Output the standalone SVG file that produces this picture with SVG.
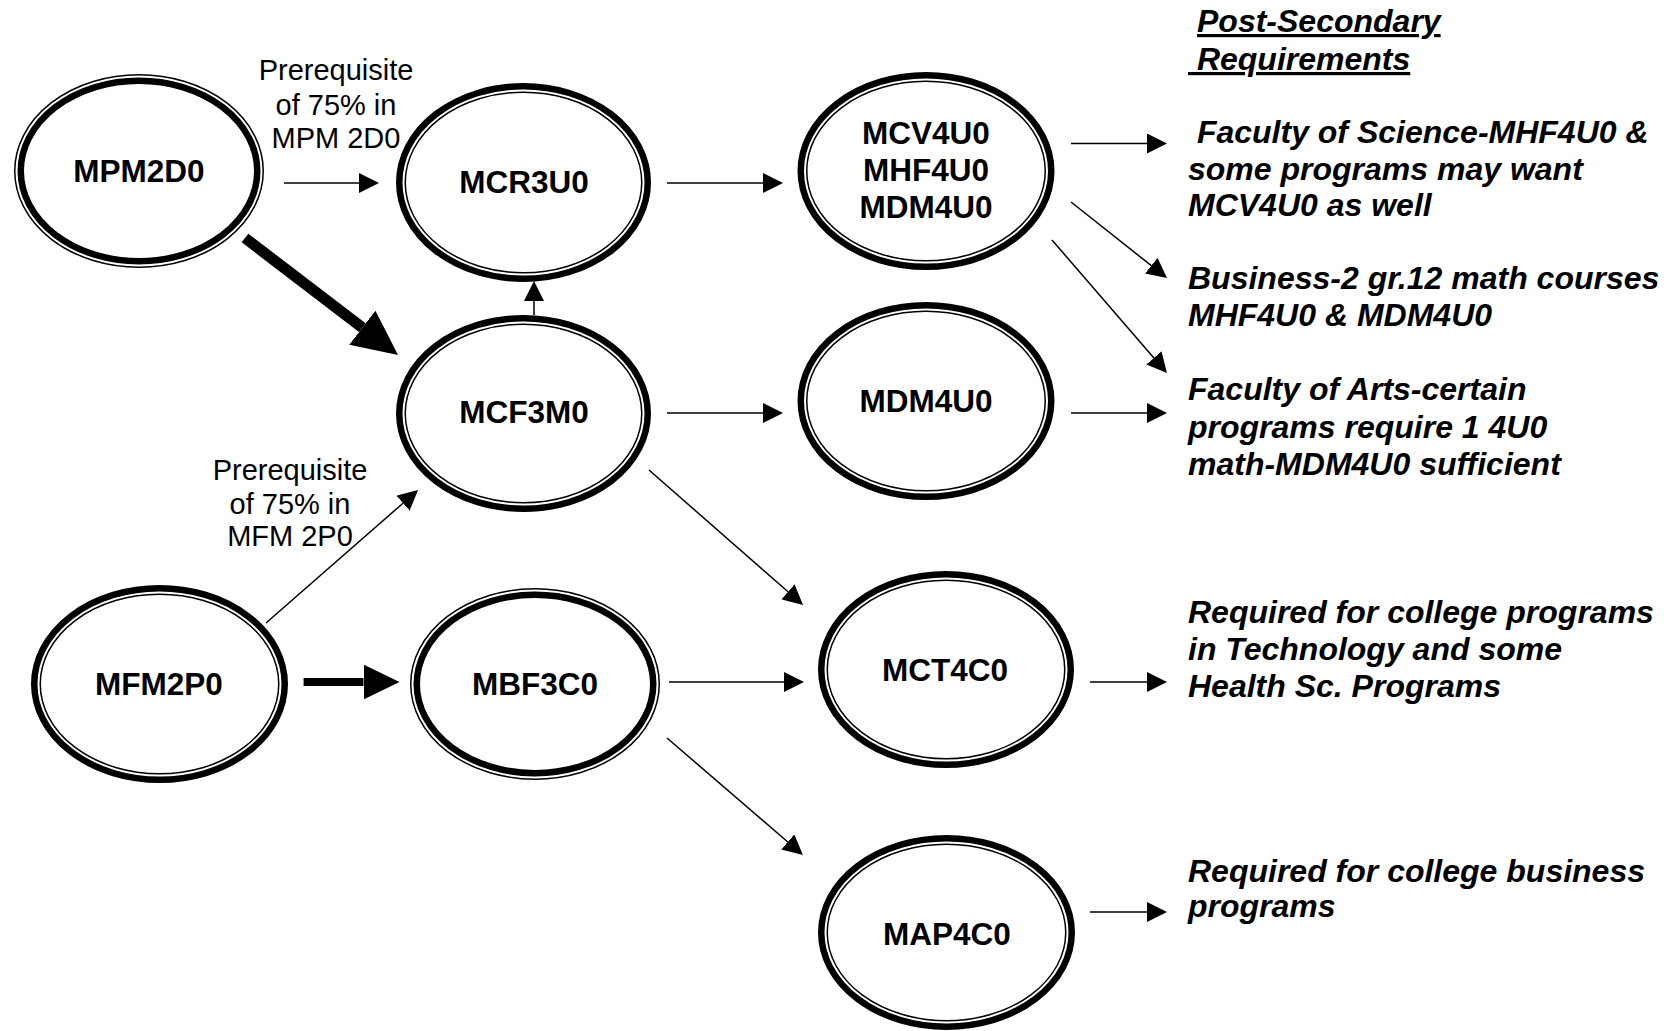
<svg xmlns="http://www.w3.org/2000/svg" width="1670" height="1031" viewBox="0 0 1670 1031">
<style>
.bg{fill:#fff}
.tk{fill:none;stroke:#000;stroke-width:6.5}
.tn{fill:none;stroke:#000;stroke-width:1.5}
.nt{font-family:"Liberation Sans",Arial,sans-serif;font-weight:bold;font-size:31.5px;text-anchor:middle;fill:#000}
.lb{font-family:"Liberation Sans",Arial,sans-serif;font-size:29px;text-anchor:middle;fill:#000}
.rt{font-family:"Liberation Sans",Arial,sans-serif;font-weight:bold;font-style:italic;font-size:32px;fill:#000;white-space:pre}
.ul{text-decoration:underline}
.c{fill:none;stroke:#000;stroke-width:1.5}
</style>
<defs>
<marker id="ah" markerUnits="userSpaceOnUse" viewBox="0 0 20 20" markerWidth="20" markerHeight="20" refX="0" refY="10" orient="auto"><path d="M0,0 L20,10 L0,20 z" fill="#000"/></marker>
<marker id="ahBig" markerUnits="userSpaceOnUse" viewBox="0 0 45 43" markerWidth="45" markerHeight="43" refX="0" refY="21.5" orient="auto"><path d="M0,0 L45,21.5 L0,43 z" fill="#000"/></marker>
<marker id="ahMed" markerUnits="userSpaceOnUse" viewBox="0 0 36 35" markerWidth="36" markerHeight="35" refX="0" refY="17.5" orient="auto"><path d="M0,0 L36,17.5 L0,35 z" fill="#000"/></marker>
<clipPath id="clip1"><rect x="200" y="40" width="280" height="109"/></clipPath>
<clipPath id="clip2"><rect x="150" y="440" width="280" height="107"/></clipPath>
</defs>
<rect width="1670" height="1031" fill="#fff"/>

<g id="connectors">
<line class="c" x1="284" y1="183" x2="359" y2="183" marker-end="url(#ah)"/>
<line x1="245" y1="238" x2="362.3" y2="327.7" stroke="#000" stroke-width="11" marker-end="url(#ahBig)"/>
<line class="c" x1="534" y1="315" x2="534" y2="301" marker-end="url(#ah)"/>
<line class="c" x1="667" y1="183" x2="763" y2="183" marker-end="url(#ah)"/>
<line class="c" x1="1071" y1="143.5" x2="1147" y2="143.5" marker-end="url(#ah)"/>
<line class="c" x1="1071" y1="202" x2="1151.3" y2="265.6" marker-end="url(#ah)"/>
<line class="c" x1="1052" y1="240" x2="1153.9" y2="357.9" marker-end="url(#ah)"/>
<line class="c" x1="667" y1="413" x2="763" y2="413" marker-end="url(#ah)"/>
<line class="c" x1="1071" y1="413" x2="1147" y2="413" marker-end="url(#ah)"/>
<line class="c" x1="649" y1="470" x2="788" y2="591.8" marker-end="url(#ah)"/>
<line class="c" x1="266" y1="623" x2="403" y2="503.2" marker-end="url(#ah)"/>
<line x1="303.6" y1="682" x2="363.5" y2="682" stroke="#000" stroke-width="8" marker-end="url(#ahMed)"/>
<line class="c" x1="669" y1="682" x2="784" y2="682" marker-end="url(#ah)"/>
<line class="c" x1="1090" y1="682" x2="1147" y2="682" marker-end="url(#ah)"/>
<line class="c" x1="667" y1="738" x2="787.8" y2="842" marker-end="url(#ah)"/>
<line class="c" x1="1090" y1="912" x2="1147" y2="912" marker-end="url(#ah)"/>
</g>

<g id="label-mpm" clip-path="url(#clip1)">
<text class="lb" x="336" y="80">Prerequisite</text>
<text class="lb" x="336" y="114.5">of 75% in</text>
<text class="lb" x="336" y="148">MPM 2D0</text>
</g>
<g id="label-mfm" clip-path="url(#clip2)">
<text class="lb" x="290" y="480">Prerequisite</text>
<text class="lb" x="290" y="513.5">of 75% in</text>
<text class="lb" x="290" y="546">MFM 2P0</text>
</g>

<g id="MPM2D0">
<ellipse class="tn" cx="139" cy="171" rx="124.25" ry="96.25" style="fill:#fff"/>
<ellipse class="tk" cx="139" cy="171" rx="118.25" ry="90.25"/>
<text class="nt" x="139" y="182">MPM2D0</text>
</g>
<g id="MCR3U0">
<ellipse class="tk" cx="523.5" cy="182.5" rx="124.25" ry="96.25" style="fill:#fff"/>
<ellipse class="tn" cx="523.5" cy="182.5" rx="118.25" ry="90.25"/>
<text class="nt" x="524" y="193">MCR3U0</text>
</g>
<g id="MCV4U0">
<ellipse class="tk" cx="926" cy="171" rx="125.25" ry="95.75" style="fill:#fff"/>
<ellipse class="tn" cx="926" cy="171" rx="119.25" ry="89.75"/>
<text class="nt" x="926" y="144">MCV4U0</text>
<text class="nt" x="926" y="181">MHF4U0</text>
<text class="nt" x="926" y="218">MDM4U0</text>
</g>
<g id="MCF3M0">
<ellipse class="tk" cx="523.5" cy="413.5" rx="124.25" ry="95.25" style="fill:#fff"/>
<ellipse class="tn" cx="523.5" cy="413.5" rx="118.25" ry="89.25"/>
<text class="nt" x="524" y="423">MCF3M0</text>
</g>
<g id="MDM4U0">
<ellipse class="tk" cx="926" cy="401" rx="125.25" ry="95.75" style="fill:#fff"/>
<ellipse class="tn" cx="926" cy="401" rx="119.25" ry="89.75"/>
<text class="nt" x="926" y="412">MDM4U0</text>
</g>
<g id="MFM2P0">
<ellipse class="tk" cx="159.5" cy="684" rx="125.25" ry="95.75" style="fill:#fff"/>
<ellipse class="tn" cx="159.5" cy="684" rx="119.25" ry="89.75"/>
<text class="nt" x="159" y="695">MFM2P0</text>
</g>
<g id="MBF3C0">
<ellipse class="tn" cx="535" cy="684" rx="124.25" ry="95.25" style="fill:#fff"/>
<ellipse class="tk" cx="535" cy="684" rx="118.25" ry="89.25"/>
<text class="nt" x="535" y="695">MBF3C0</text>
</g>
<g id="MCT4C0">
<ellipse class="tk" cx="946" cy="669.5" rx="124.75" ry="95.25" style="fill:#fff"/>
<ellipse class="tn" cx="946" cy="669.5" rx="118.75" ry="89.25"/>
<text class="nt" x="945" y="681">MCT4C0</text>
</g>
<g id="MAP4C0">
<ellipse class="tk" cx="946.5" cy="932.5" rx="125.25" ry="94.25" style="fill:#fff"/>
<ellipse class="tn" cx="946.5" cy="932.5" rx="119.25" ry="88.25"/>
<text class="nt" x="947" y="945">MAP4C0</text>
</g>

<g id="heading">
<text class="rt ul" x="1197" y="32">Post-Secondary</text>
<text class="rt ul" x="1188" y="70"> Requirements</text>
</g>
<g id="req-science">
<text class="rt" x="1188" y="143"> Faculty of Science-MHF4U0 &amp;</text>
<text class="rt" x="1188" y="179.5">some programs may want</text>
<text class="rt" x="1188" y="216">MCV4U0 as well</text>
</g>
<g id="req-business">
<text class="rt" x="1188" y="289">Business-2 gr.12 math courses</text>
<text class="rt" x="1188" y="326">MHF4U0 &amp; MDM4U0</text>
</g>
<g id="req-arts">
<text class="rt" x="1188" y="400">Faculty of Arts-certain</text>
<text class="rt" x="1188" y="438">programs require 1 4U0</text>
<text class="rt" x="1188" y="475">math-MDM4U0 sufficient</text>
</g>
<g id="req-tech">
<text class="rt" x="1188" y="623">Required for college programs</text>
<text class="rt" x="1188" y="660">in Technology and some</text>
<text class="rt" x="1188" y="697">Health Sc. Programs</text>
</g>
<g id="req-college-business">
<text class="rt" x="1188" y="882">Required for college business</text>
<text class="rt" x="1188" y="917">programs</text>
</g>
</svg>
